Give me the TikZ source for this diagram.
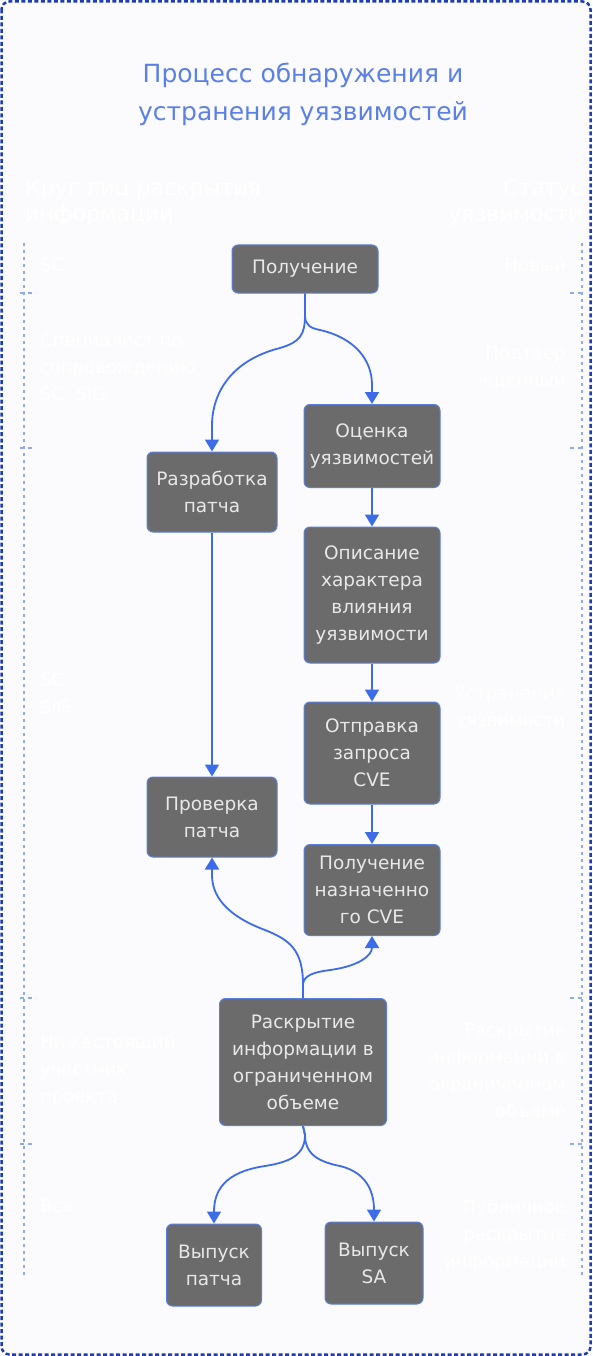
\documentclass[tikz,border=0pt]{standalone}
\usepackage{fontspec}
\setmainfont{DejaVu Sans}
\usetikzlibrary{arrows.meta}
\definecolor{bgc}{HTML}{FBFBFD}
\definecolor{outerc}{HTML}{1E3DB5}
\definecolor{titlec}{HTML}{5B80E6}
\definecolor{boxfill}{HTML}{6B6B6B}
\definecolor{boxborder}{HTML}{5B7FDC}
\definecolor{boxtext}{HTML}{E8E8E8}
\definecolor{edgec}{HTML}{3D6CE8}
\definecolor{sidec}{HTML}{8FAAF0}
\tikzset{
  box/.style={draw=boxborder, line width=1pt, fill=boxfill, rounded corners=6pt, text=boxtext,
    align=center, inner sep=0pt, font=\fontsize{18.5}{27}\selectfont},
  edge/.style={draw=edgec, line width=1.8pt, -{Triangle[width=14pt,length=12pt]}},
  sidetxt/.style={text=white, font=\fontsize{18}{27}\selectfont, inner sep=0pt},
  headtxt/.style={text=white, font=\fontsize{22}{26}\selectfont, inner sep=0pt},
  sideline/.style={draw=sidec, line width=2.4pt, dash pattern=on 3pt off 4pt},
  tick/.style={draw=sidec, line width=2.4pt, dash pattern=on 4pt off 4pt}
}
\begin{document}
\begin{tikzpicture}[x=1pt,y=-1pt]
\path[use as bounding box] (0,0) rectangle (592,1356);
\draw[outerc, fill=bgc, line width=2.5pt, dash pattern=on 4pt off 2.5pt, rounded corners=8pt] (1.5,1.5) rectangle (590.5,1354.5);
% title
\node[text=titlec, font=\fontsize{25}{38}\selectfont, align=center] (title) at (303,94) {Процесс обнаружения и\\устранения уязвимостей};
% side structure
\coordinate (lt) at (24,243); \coordinate (lb) at (24,1275);
\coordinate (rt) at (582,243); \coordinate (rb) at (582,1275);
\draw[sideline] (lt) -- (lb);
\draw[sideline] (rt) -- (rb);
\foreach \y in {293,448,998,1144} {
  \draw[tick] (20,\y) -- (36,\y);
  \draw[tick] (570,\y) -- (586,\y);
}
% side texts
\node[headtxt, anchor=west, align=left] (lhead) at (25,203) {Круг лиц раскрытия\\информации};
\node[headtxt, anchor=east, align=right] (rhead) at (583,203) {Статус\\уязвимости};
\node[sidetxt, anchor=west, align=left] (l1) at (40,265) {SC};
\node[sidetxt, anchor=west, align=left] (l2) at (40,368) {Специалист по\\сопровождению\\SC, SIG};
\node[sidetxt, anchor=west, align=left] (l3) at (40,693) {SC,\\SIG};
\node[sidetxt, anchor=west, align=left] (l4) at (40,1071) {Нижестоящий\\участник\\проекта};
\node[sidetxt, anchor=west, align=left] (l5) at (40,1206) {Все};
\node[sidetxt, anchor=east, align=right] (r1) at (566,265) {Новый};
\node[sidetxt, anchor=east, align=right] (r2) at (566,368) {Подтвер\\ждённый};
\node[sidetxt, anchor=east, align=right] (r3) at (566,708) {Устранение\\уязвимости};
\node[sidetxt, anchor=east, align=right] (r4) at (566,1071) {Раскрытие\\информации в\\ограниченном\\объеме};
\node[sidetxt, anchor=east, align=right] (r5) at (566,1235) {Публичное\\раскрытие\\информации};
% boxes
\node[box, minimum width=146pt, minimum height=48pt] (get) at (305,269) {Получение};
\node[box, minimum width=136pt, minimum height=83pt] (eval) at (372,446) {Оценка\\уязвимостей};
\node[box, minimum width=130pt, minimum height=80pt] (dev) at (212,492) {Разработка\\патча};
\node[box, minimum width=136pt, minimum height=136pt] (desc) at (372,595) {Описание\\характера\\влияния\\уязвимости};
\node[box, minimum width=136pt, minimum height=102pt] (req) at (372,753) {Отправка\\запроса\\CVE};
\node[box, minimum width=130pt, minimum height=80pt] (check) at (212,817) {Проверка\\патча};
\node[box, minimum width=136pt, minimum height=91pt] (cve) at (372,890) {Получение\\назначенно\\го CVE};
\node[box, minimum width=167pt, minimum height=127pt] (disc) at (303,1062) {Раскрытие\\информации в\\ограниченном\\объеме};
\node[box, minimum width=95pt, minimum height=82pt] (relpatch) at (214,1265) {Выпуск\\патча};
\node[box, minimum width=98pt, minimum height=82pt] (relsa) at (374,1263) {Выпуск\\SA};
% connectors
\draw[edge] (get.south) -- (305,315) .. controls (305,335) and (300,342) .. (280,348) .. controls (225,362) and (212,400) .. (212,425) -- (dev.north);
\draw[edge] (get.south) -- (305,315) .. controls (305,325) and (310,328) .. (320,330) .. controls (355,338) and (372,360) .. (372,385) -- (eval.north);
\draw[edge] (eval.south) -- (desc.north);
\draw[edge] (desc.south) -- (req.north);
\draw[edge] (req.south) -- (cve.north);
\draw[edge] (dev.south) -- (check.north);
\draw[edge] (disc.north) -- (303,985) .. controls (303,950) and (290,940) .. (265,930) .. controls (225,915) and (212,895) .. (212,875) -- (check.south);
\draw[edge] (disc.north) -- (303,985) .. controls (303,975) and (315,972) .. (330,970) .. controls (360,966) and (372,955) .. (cve.south);
\draw[edge] (disc.south) -- (305,1135) .. controls (305,1155) and (290,1162) .. (265,1166) .. controls (225,1172) and (214,1190) .. (relpatch.north);
\draw[edge] (disc.south) -- (305,1135) .. controls (305,1155) and (320,1162) .. (340,1166) .. controls (365,1172) and (374,1190) .. (relsa.north);
\end{tikzpicture}
\end{document}
